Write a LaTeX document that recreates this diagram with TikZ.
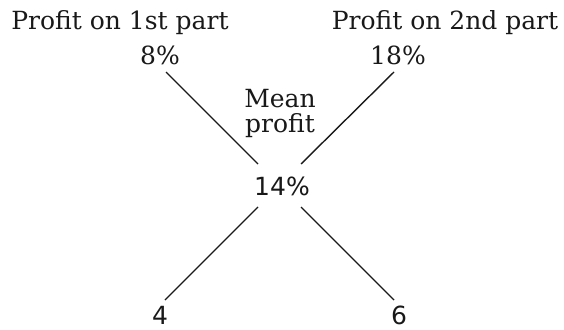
\documentclass[tikz,border=0pt]{standalone}
\usepackage{fontspec}
\setmainfont{DejaVu Serif}
\newfontfamily\numfont{DejaVu Sans}
\begin{document}
\begin{tikzpicture}[x=1pt,y=1pt,
  lbl/.style={inner sep=0pt,anchor=base,text=black!90,font=\fontsize{25}{25.5}\selectfont},
  num/.style={inner sep=0pt,anchor=base,text=black!90,font=\numfont\fontsize{25}{27}\selectfont},
  leg/.style={line width=1.4pt,black!90}]
\useasboundingbox (0,0) rectangle (564,-329);
\node[lbl] (t1) at (120,-30) {Profit on 1st part};
\node[lbl] (p1) at (160,-64) {8\%};
\node[lbl] (t2) at (445,-30) {Profit on 2nd part};
\node[lbl] (p2) at (398,-64) {18\%};
\node[lbl,align=center,anchor=north] (mean) at (280,-89) {Mean\\profit};
\node[num] (m) at (282,-195) {14\%};
\node[num] (a) at (160,-324) {4};
\node[num] (b) at (399,-324) {6};
\coordinate (c1) at (166,-72);
\coordinate (c2) at (394,-72);
\coordinate (e1) at (258,-164);
\coordinate (e2) at (301,-164);
\coordinate (f1) at (258,-207);
\coordinate (f2) at (301,-207);
\coordinate (g1) at (165,-300);
\coordinate (g2) at (394,-300);
\draw[leg] (c1) -- (e1);
\draw[leg] (c2) -- (e2);
\draw[leg] (f1) -- (g1);
\draw[leg] (f2) -- (g2);
\end{tikzpicture}
\end{document}
